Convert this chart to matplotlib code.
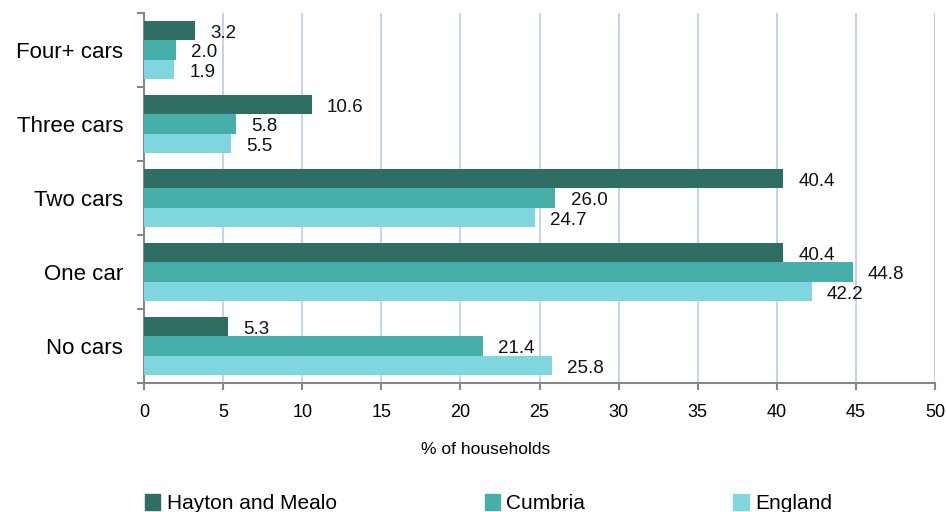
import matplotlib
matplotlib.use("Agg")
import matplotlib.pyplot as plt
from matplotlib.patches import Patch
import numpy as np

plt.rcParams["font.family"] = ["Liberation Sans", "DejaVu Sans"]

categories = ["Four+ cars", "Three cars", "Two cars", "One car", "No cars"]
series_names = ["Hayton and Mealo", "Cumbria", "England"]
hayton = [3.2, 10.6, 40.4, 40.4, 5.3]
cumbria = [2.0, 5.8, 26.0, 44.8, 21.4]
england = [1.9, 5.5, 24.7, 42.2, 25.8]
x_ticks = [0, 5, 10, 15, 20, 25, 30, 35, 40, 45, 50]

colors = ["#2f6e62", "#46afaa", "#80d6de"]
grid_col = "#b9cde5"
axis_col = "#868686"

fig = plt.figure(figsize=(9.46, 5.12), dpi=100)
ax = fig.add_axes([0.1522, 0.252, 0.8362, 0.7226])

y = np.arange(len(categories))
bar_h = 0.265
for i, vals in enumerate([hayton, cumbria, england]):
    pos = y + (i - 1) * bar_h
    ax.barh(pos, vals, height=bar_h, color=colors[i], zorder=3)
    for p, v in zip(pos, vals):
        ax.annotate(f"{v:.1f}", (v, p), xytext=(11, -2), textcoords="offset points",
                    ha="left", va="center", fontsize=13.5, color="#111111")

ax.set_ylim(len(categories) - 0.5, -0.5)
ax.set_xlim(0, 50)
ax.set_xticks(x_ticks)
ax.set_xticklabels([str(t) for t in x_ticks], fontsize=13)
ax.set_yticks(y)
ax.set_yticklabels(categories, fontsize=16)
ax.set_yticks(np.arange(len(categories) + 1) - 0.5, minor=True)
ax.tick_params(axis="y", which="major", length=0, pad=15)
ax.tick_params(axis="y", which="minor", length=5, color=axis_col, width=1.5, direction="out")
ax.tick_params(axis="x", length=5, color=axis_col, width=1.5, direction="out", pad=10)

ax.grid(axis="x", color=grid_col, linewidth=1.2, zorder=0)
for s in ["top", "right"]:
    ax.spines[s].set_visible(False)
for s in ["left", "bottom"]:
    ax.spines[s].set_color(axis_col)
    ax.spines[s].set_linewidth(1.5)

ax.set_xlabel("% of households", fontsize=12.5)
ax.xaxis.set_label_coords(0.432, -0.16)

handles = [Patch(color=c) for c in colors]
fig.legend(handles, series_names, loc="center left", bbox_to_anchor=(0.153, 0.016),
           ncol=3, frameon=False, fontsize=15, handlelength=0.75, handleheight=0.75,
           handletextpad=0.3, columnspacing=7.1, borderpad=0, borderaxespad=0)

fig.savefig("out.png", dpi=100)
